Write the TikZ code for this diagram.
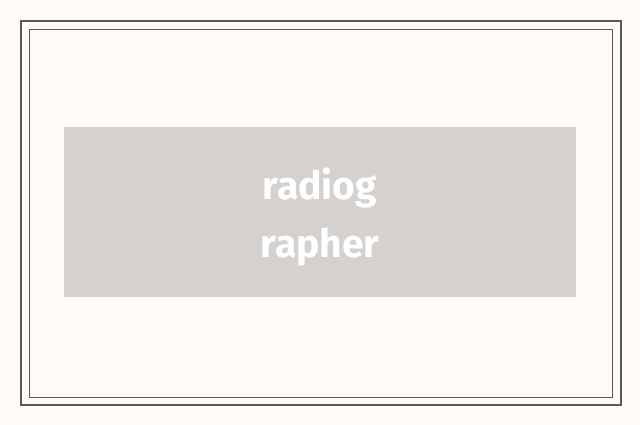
\documentclass[tikz,border=0pt]{standalone}
\usepackage{fontspec}
\setmainfont{Fira Sans}
\definecolor{bg}{HTML}{FFFAF7}
\definecolor{frame}{HTML}{5A5858}
\definecolor{boxfill}{HTML}{D4D1CE}
\begin{document}
\begin{tikzpicture}[x=1pt,y=-1pt]
\fill[bg] (0,0) rectangle (640,425);
\useasboundingbox (0,0) rectangle (640,425);
\draw[frame,line width=1.6pt] (21,21) rectangle (621,405);
\draw[frame,line width=0.8pt] (29,29) rectangle (612,397);
\node[fill=boxfill,minimum width=512pt,minimum height=170pt,inner sep=0pt] (box) at (320,212) {};
\node[text=white,font=\fontsize{39}{58}\selectfont\bfseries,align=center,inner sep=0pt] (lbl) at (320,217) {radiog\\rapher};
\end{tikzpicture}
\end{document}
